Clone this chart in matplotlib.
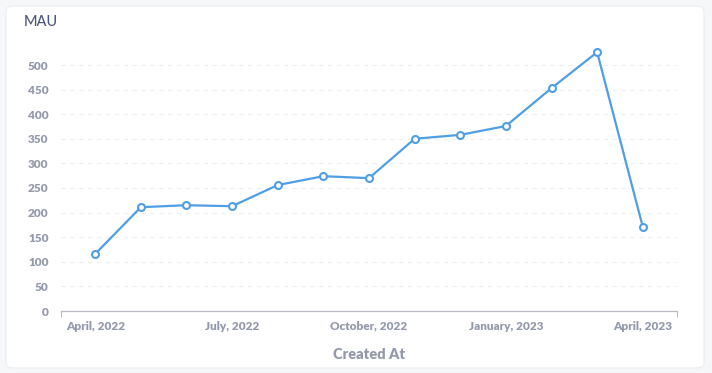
import matplotlib.pyplot as plt
from matplotlib.patches import FancyBboxPatch

# monthly active users, April 2022 .. April 2023
months = ["2022-04", "2022-05", "2022-06", "2022-07", "2022-08", "2022-09", "2022-10",
          "2022-11", "2022-12", "2023-01", "2023-02", "2023-03", "2023-04"]
mau = [116, 211, 215, 213, 256, 274, 270, 350, 358, 376, 453, 526, 171]
tick_labels = ["April, 2022", "July, 2022", "October, 2022", "January, 2023", "April, 2023"]
tick_months = ["2022-04", "2022-07", "2022-10", "2023-01", "2023-04"]
y_ticks = [0, 50, 100, 150, 200, 250, 300, 350, 400, 450, 500]

plt.rcParams['font.family'] = 'Lato'

fig = plt.figure(figsize=(7.12, 3.73), dpi=100, facecolor="#F6F7F9")

# white card behind the chart
card = FancyBboxPatch((6 / 712, 5 / 373), 698 / 712, 362 / 373,
                      boxstyle="round,pad=0,rounding_size=0.012",
                      transform=fig.transFigure, facecolor="white",
                      edgecolor="#EBEDF0", linewidth=0.8, zorder=-5)
fig.patches.append(card)

ax = fig.add_axes([61 / 712, 62 / 373, 616 / 712, 270.6 / 373])
ax.set_facecolor("none")
ax.set_zorder(2)

x = list(range(len(months)))
ax.plot(x, mau, color="#509EE3", linewidth=1.6, marker="o", markersize=5,
        markerfacecolor="white", markeredgecolor="#509EE3", markeredgewidth=1.5,
        zorder=3, clip_on=False)

ax.set_xlim(-0.75, len(months) - 1 + 0.75)
ax.set_ylim(0, 550)

lbl_color = "#949AAB"
ax.set_yticks(y_ticks)
ax.set_yticklabels([str(v) for v in y_ticks], fontweight="heavy", fontsize=8.5)
ax.set_xticks([months.index(m) for m in tick_months])
ax.set_xticklabels(tick_labels, fontweight="heavy", fontsize=8.5)
ax.set_xticks([-0.75, len(months) - 1 + 0.75], minor=True)

ax.tick_params(axis="both", which="major", length=0, labelcolor=lbl_color)
ax.tick_params(axis="y", pad=9)
ax.tick_params(axis="x", pad=7)
ax.tick_params(axis="x", which="minor", length=4, color="#B8BBC3", width=0.8)

for v in y_ticks[1:]:
    ax.axhline(v, color="#ECEEF1", linewidth=0.8, linestyle=(0, (4, 4)), zorder=1)

for s in ["top", "right", "left"]:
    ax.spines[s].set_visible(False)
ax.spines["bottom"].set_color("#B8BBC3")
ax.spines["bottom"].set_linewidth(0.9)

ax.set_xlabel("Created At", fontsize=10.5, fontweight="heavy", color=lbl_color, labelpad=12)
fig.text(24 / 712, 1 - 22 / 373, "MAU", fontsize=10.5, fontweight="medium",
         color="#4C5773", va="center", ha="left")

fig.savefig("out.png", dpi=100, facecolor=fig.get_facecolor())
